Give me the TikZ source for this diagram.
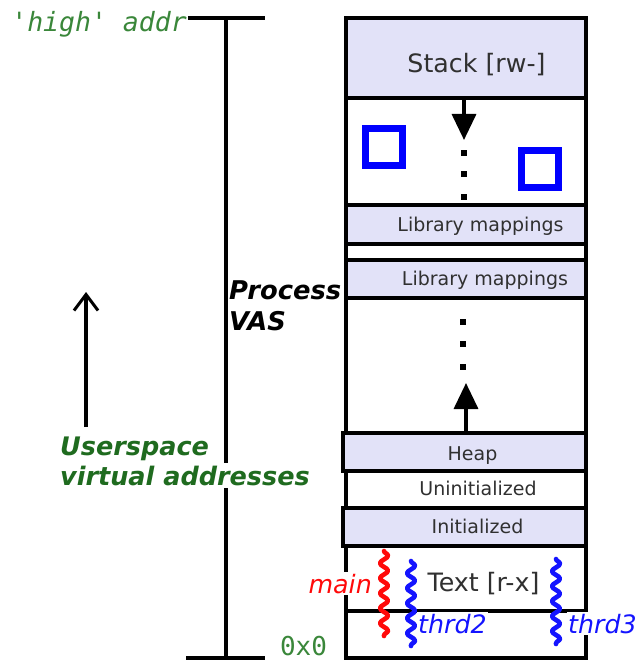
\documentclass[tikz,border=0pt]{standalone}
\usepackage{fontspec}
\setmainfont{DejaVu Sans}
\newfontfamily\monofont{DejaVu Sans Mono}
\usetikzlibrary{arrows.meta,decorations.pathmorphing}
\definecolor{lav}{RGB}{226,226,248}
\definecolor{labelgrey}{RGB}{48,48,48}
\definecolor{addrgreen}{RGB}{58,135,58}
\definecolor{userspgreen}{RGB}{31,107,31}
\definecolor{thrblue}{RGB}{20,20,255}
\definecolor{thrred}{RGB}{255,10,10}

\begin{document}
\begin{tikzpicture}[x=1pt,y=-1pt,
  seg/.style={draw=black, line width=3.4pt, minimum width=240pt, inner sep=0pt, outer sep=0pt, fill=white},
  lavseg/.style={seg, fill=lav},
  bigtext/.style={font=\fontsize{25.3}{29}\selectfont, text=labelgrey, inner sep=0pt},
  smalltext/.style={font=\fontsize{19}{22}\selectfont, text=labelgrey, inner sep=0pt},
  addrtext/.style={font=\monofont\itshape\fontsize{26.5}{30}\selectfont, text=addrgreen, inner sep=0pt},
  vastext/.style={font=\bfseries\itshape\fontsize{25.8}{30}\selectfont, inner sep=0pt},
  usertext/.style={font=\bfseries\itshape\fontsize{25.5}{30}\selectfont, text=userspgreen, inner sep=3pt, fill=white},
  thrlabel/.style={font=\itshape\fontsize{25.3}{29}\selectfont, inner sep=1.5pt, fill=white},
  squiggle/.style={line width=4.6pt, line cap=round, line join=round, decorate,
    decoration={snake, segment length=15pt, amplitude=4pt}},
  growarrow/.style={line width=3.4pt, -{Triangle[width=24pt,length=26pt]}},
  marker/.style={draw=blue, line width=7pt, minimum size=37pt, inner sep=0pt, fill=white},
  rule/.style={line width=3.4pt},
]
\useasboundingbox (0,0) rectangle (636,660);

% ---- the address-space column, top to bottom ----
\node[lavseg, minimum height=80pt]  (stack)   at (466,58)    {};
\node[seg,    minimum height=107pt] (stkfree) at (466,151.5) {};
\node[lavseg, minimum height=39pt]  (libA)    at (466,224.5) {};
\node[seg,    minimum height=16pt]  (libgap)  at (466,252)   {};
\node[lavseg, minimum height=38pt]  (libB)    at (466,279)   {};
\node[seg,    minimum height=135pt] (heapfree) at (466,365.5) {};
\node[seg,    minimum height=37pt]  (bss)     at (466,489.5) {};
\node[seg,    minimum height=65pt]  (text)    at (466,578.5) {};
\node[seg,    minimum height=47pt]  (low)     at (466,634.5) {};
\node[lavseg, minimum height=38pt, minimum width=243pt] (heap) at (464.5,452) {};
\node[lavseg, minimum height=38pt, minimum width=243pt] (data) at (464.5,527) {};

% ---- segment labels ----
\node[bigtext,   anchor=base] (stacklbl) at (476.5,73)  {Stack [rw-]};
\node[smalltext, anchor=base] (libAlbl)  at (480.5,231) {Library mappings};
\node[smalltext, anchor=base] (libBlbl)  at (485,285)   {Library mappings};
\node[smalltext, anchor=base] (heaplbl)  at (472.5,460) {Heap};
\node[smalltext, anchor=base] (bsslbl)   at (478,495)   {Uninitialized};
\node[smalltext, anchor=base] (datalbl)  at (477.5,533) {Initialized};
\node[bigtext,   anchor=base] (textlbl)  at (483.5,591) {Text [r-x]};

% ---- stack grows down ----
\coordinate (stacktip) at (464,140);
\draw[growarrow] ([xshift=-2pt]stack.south) -- (stacktip);
\foreach \yy in {153,174,197} \fill (461,\yy-3) rectangle (467,\yy+3);

% ---- heap grows up ----
\coordinate (heaptip) at (466,383);
\draw[growarrow] ([xshift=1.5pt]heap.north) -- (heaptip);
\foreach \yy in {322,344,367} \fill (460,\yy-3) rectangle (466,\yy+3);

% ---- thread stacks ----
\node[marker] (tstackA) at (384,147) {};
\node[marker] (tstackB) at (540,169) {};

% ---- threads running in the text segment ----
\coordinate (mainA) at (384,551);
\coordinate (mainB) at (384,636);
\coordinate (thrAa) at (411,561);
\coordinate (thrAb) at (411,646);
\coordinate (thrBa) at (556,559);
\coordinate (thrBb) at (556,644);
\node[thrlabel, text=thrred, anchor=base east] (mainlbl) at (373.5,593) {main};
\node[thrlabel, text=thrblue, anchor=base west] (thrAlbl) at (416.5,633) {thrd2};
\node[thrlabel, text=thrblue, anchor=base west] (thrBlbl) at (566.5,633) {thrd3};
\draw[squiggle, thrred]  (mainA) -- (mainB);
\draw[squiggle, thrblue] (thrAa) -- (thrAb);
\draw[squiggle, thrblue] (thrBa) -- (thrBb);

% ---- extent of the process VAS ----
\coordinate (vtop) at (226,18);
\coordinate (vbot) at (226,658);
\coordinate (vtopL) at (188,18);
\coordinate (vtopR) at (265,18);
\coordinate (vbotL) at (186,658);
\coordinate (vbotR) at (265,658);
\draw[rule] (vtop) -- (vbot);
\draw[rule] (vtopL) -- (vtopR);
\draw[rule] (vbotL) -- (vbotR);

\node[addrtext, anchor=base east] (hiaddr) at (187,31.5) {'high' addr};
\node[addrtext, anchor=base, text depth=0pt, font=\monofont\fontsize{26}{30}\selectfont] (loaddr) at (303.5,655) {0x0};

\node[vastext, anchor=base west] (vasA) at (229,299) {Process};
\node[vastext, anchor=base west] (vasB) at (229,330) {VAS};

% ---- user-space direction ----
\node[usertext, anchor=base west] (userA) at (57,455) {Userspace};
\node[usertext, anchor=base west] (userB) at (57,485) {virtual addresses};
\coordinate (uptail) at (86,427);
\coordinate (uptip) at (86,292);
\draw[line width=3.4pt, -{Straight Barb[width=24pt,length=16pt,line width=3pt]}] (uptail) -- (uptip);
\end{tikzpicture}
\end{document}
